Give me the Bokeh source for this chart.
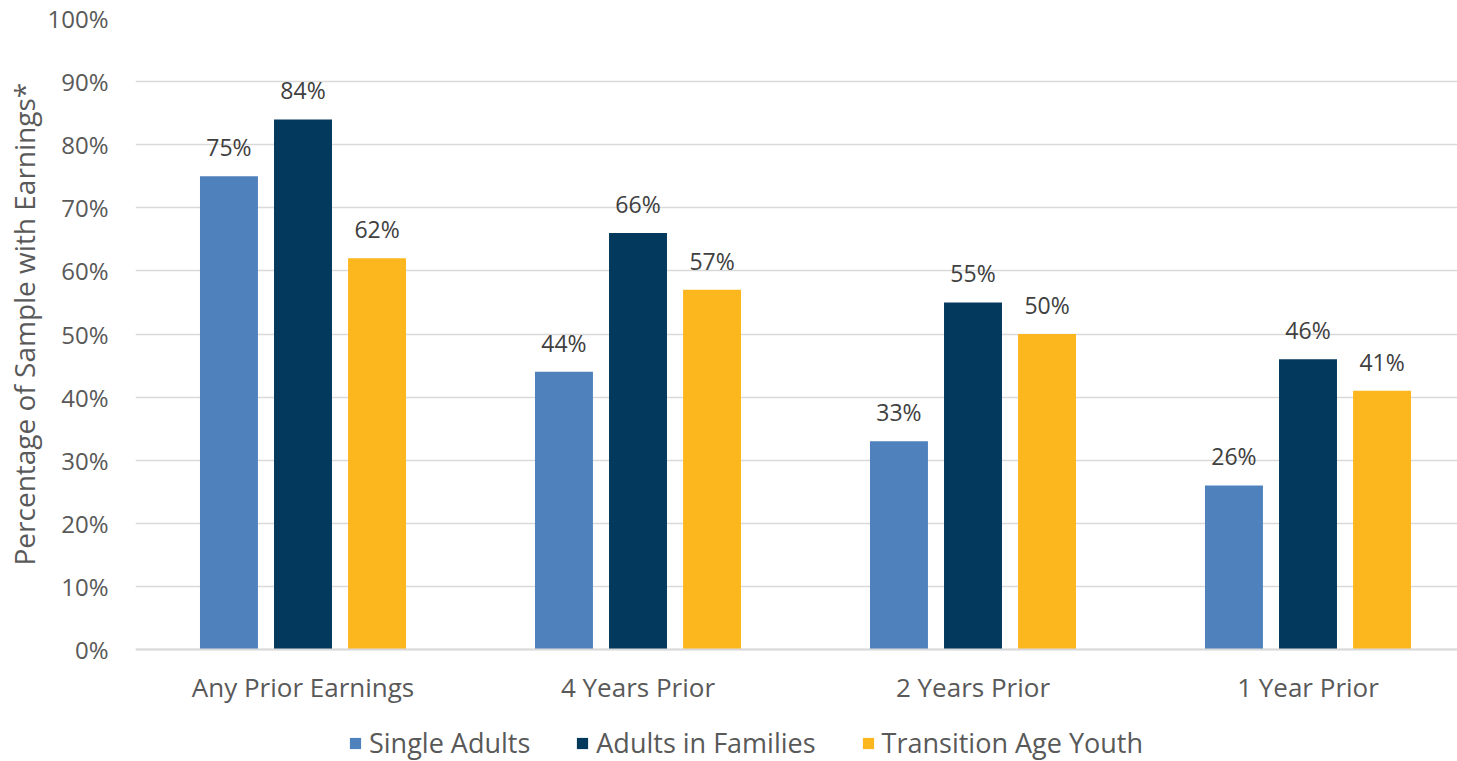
from bokeh.plotting import figure
from bokeh.models import ColumnDataSource, Range1d, FixedTicker, Legend, LegendItem, Span, Title
from bokeh.core.properties import value
from bokeh.embed import file_html
from bokeh.resources import INLINE

categories = ["Any Prior Earnings", "4 Years Prior", "2 Years Prior", "1 Year Prior"]
series_names = ["Single Adults", "Adults in Families", "Transition Age Youth"]
single_adults = [75, 44, 33, 26]
adults_in_families = [84, 66, 55, 46]
transition_age_youth = [62, 57, 50, 41]
y_ticks = [0, 10, 20, 30, 40, 50, 60, 70, 80, 90, 100]

colors = ["#4F81BD", "#03395C", "#FDB71E"]
offsets = [-0.221, 0.0, 0.221]
bar_w = 0.173
FONT = "Open Sans"
TXT = "#595959"

W, H = 1457, 761
LEFT, TOP = 135, 18
PX_PER_PCT = 6.31
y_bottom = -(H - TOP - 100 * PX_PER_PCT) / PX_PER_PCT

p = figure(width=W, height=H, output_backend="svg", toolbar_location=None,
           x_range=Range1d(0, (W - LEFT) / 335.0), y_range=Range1d(y_bottom, 100),
           min_border_left=LEFT, min_border_right=0, min_border_top=TOP, min_border_bottom=0)
p.outline_line_color = None
p.background_fill_color = "white"
p.border_fill_color = "white"
p.xaxis.visible = False

# baseline (category axis line)
p.add_layout(Span(location=0, dimension="width", line_color="#D9D9D9", line_width=2))

renderers = []
for vals, off, col in zip([single_adults, adults_in_families, transition_age_youth], offsets, colors):
    xs = [i + 0.5 + off for i in range(len(categories))]
    src = ColumnDataSource(dict(x=xs, top=vals, lab=[f"{v}%" for v in vals]))
    r = p.vbar(x="x", top="top", width=bar_w, bottom=0, source=src, fill_color=col, line_color=None)
    renderers.append(r)
    p.text(x="x", y="top", text="lab", source=src, text_align="center", text_baseline="bottom",
           y_offset=-13, text_font=value(FONT), text_font_size="23px", text_color="#404040")

# category labels along the baseline
cat_src = ColumnDataSource(dict(x=[i + 0.5 for i in range(len(categories))], y=[0] * len(categories), t=categories))
p.text(x="x", y="y", text="t", source=cat_src, text_align="center", text_baseline="middle",
       y_offset=37, text_font=value(FONT), text_font_size="26px", text_color=TXT)

p.yaxis.ticker = FixedTicker(ticks=y_ticks)
p.yaxis.major_label_overrides = {t: f"{t}%" for t in y_ticks}
p.yaxis.major_label_text_font = FONT
p.yaxis.major_label_text_font_size = "24px"
p.yaxis.major_label_text_color = TXT
p.yaxis.major_label_standoff = 21
p.yaxis.major_tick_line_color = None
p.yaxis.minor_tick_line_color = None
p.yaxis.axis_line_color = None

ylab = Title(text="Percentage of Sample with Earnings*", align="left", offset=196,
             text_font=FONT, text_font_size="28px", text_font_style="normal", text_color=TXT,
             standoff=4)
p.add_layout(ylab, "left")

p.xgrid.grid_line_color = None
p.ygrid.grid_line_color = "#D9D9D9"
p.ygrid.grid_line_width = 1.5

legend = Legend(items=[LegendItem(label=n, renderers=[r]) for n, r in zip(series_names, renderers)],
                orientation="horizontal", location=(213, 0),
                label_text_font=FONT, label_text_font_size="27px", label_text_color=TXT,
                glyph_width=14, glyph_height=14, spacing=45, label_standoff=7,
                background_fill_alpha=0, border_line_color=None, padding=0, margin=0)
p.add_layout(legend, "center")

open("out.html", "w").write(file_html(p, INLINE))
